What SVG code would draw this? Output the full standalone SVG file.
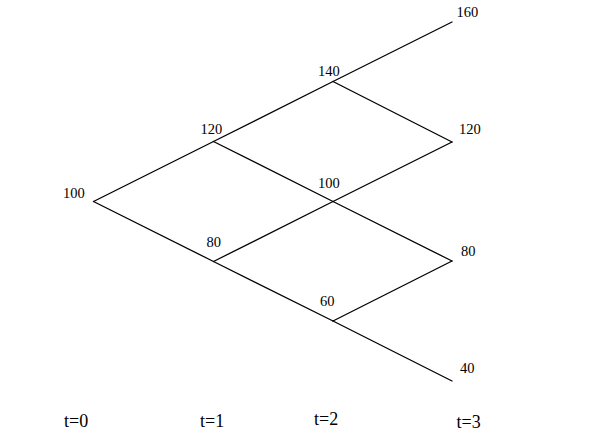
<svg xmlns="http://www.w3.org/2000/svg" width="600" height="435" viewBox="0 0 600 435">
<style>
.e{stroke:#000;stroke-width:1.3;fill:none;stroke-linecap:round}
.v{font-family:"Liberation Serif",serif;font-size:14.5px;fill:#000}
.t{font-family:"Liberation Serif",serif;font-size:18px;fill:#000}
</style>
<rect width="600" height="435" fill="#fff"/>
<g id="connectors">
<line class="e" x1="93.5" y1="201.5" x2="213.5" y2="141.5"/>
<line class="e" x1="93.5" y1="201.5" x2="213.5" y2="261.5"/>
<line class="e" x1="213.5" y1="141.5" x2="333" y2="81.5"/>
<line class="e" x1="213.5" y1="141.5" x2="333" y2="201.5"/>
<line class="e" x1="213.5" y1="261.5" x2="333" y2="201.5"/>
<line class="e" x1="213.5" y1="261.5" x2="333" y2="321"/>
<line class="e" x1="333" y1="81.5" x2="452" y2="22"/>
<line class="e" x1="333" y1="81.5" x2="452" y2="142"/>
<line class="e" x1="333" y1="201.5" x2="452" y2="142"/>
<line class="e" x1="333" y1="201.5" x2="452" y2="261"/>
<line class="e" x1="333" y1="321" x2="452" y2="261"/>
<line class="e" x1="333" y1="321" x2="452" y2="381"/>
</g>
<g id="n0"><text class="v" x="63" y="197.5">100</text></g>
<g id="n1u"><text class="v" x="200.5" y="133.5">120</text></g>
<g id="n1d"><text class="v" x="206.5" y="246.5">80</text></g>
<g id="n2uu"><text class="v" x="318" y="76">140</text></g>
<g id="n2ud"><text class="v" x="318" y="187.5">100</text></g>
<g id="n2dd"><text class="v" x="320" y="306">60</text></g>
<g id="n3a"><text class="v" x="456.5" y="17">160</text></g>
<g id="n3b"><text class="v" x="459" y="133.5">120</text></g>
<g id="n3c"><text class="v" x="461" y="256">80</text></g>
<g id="n3d"><text class="v" x="460" y="372.5">40</text></g>
<g id="times">
<text class="t" x="64" y="427">t=0</text>
<text class="t" x="200" y="427">t=1</text>
<text class="t" x="314" y="425">t=2</text>
<text class="t" x="456.5" y="427.5">t=3</text>
</g>
</svg>
